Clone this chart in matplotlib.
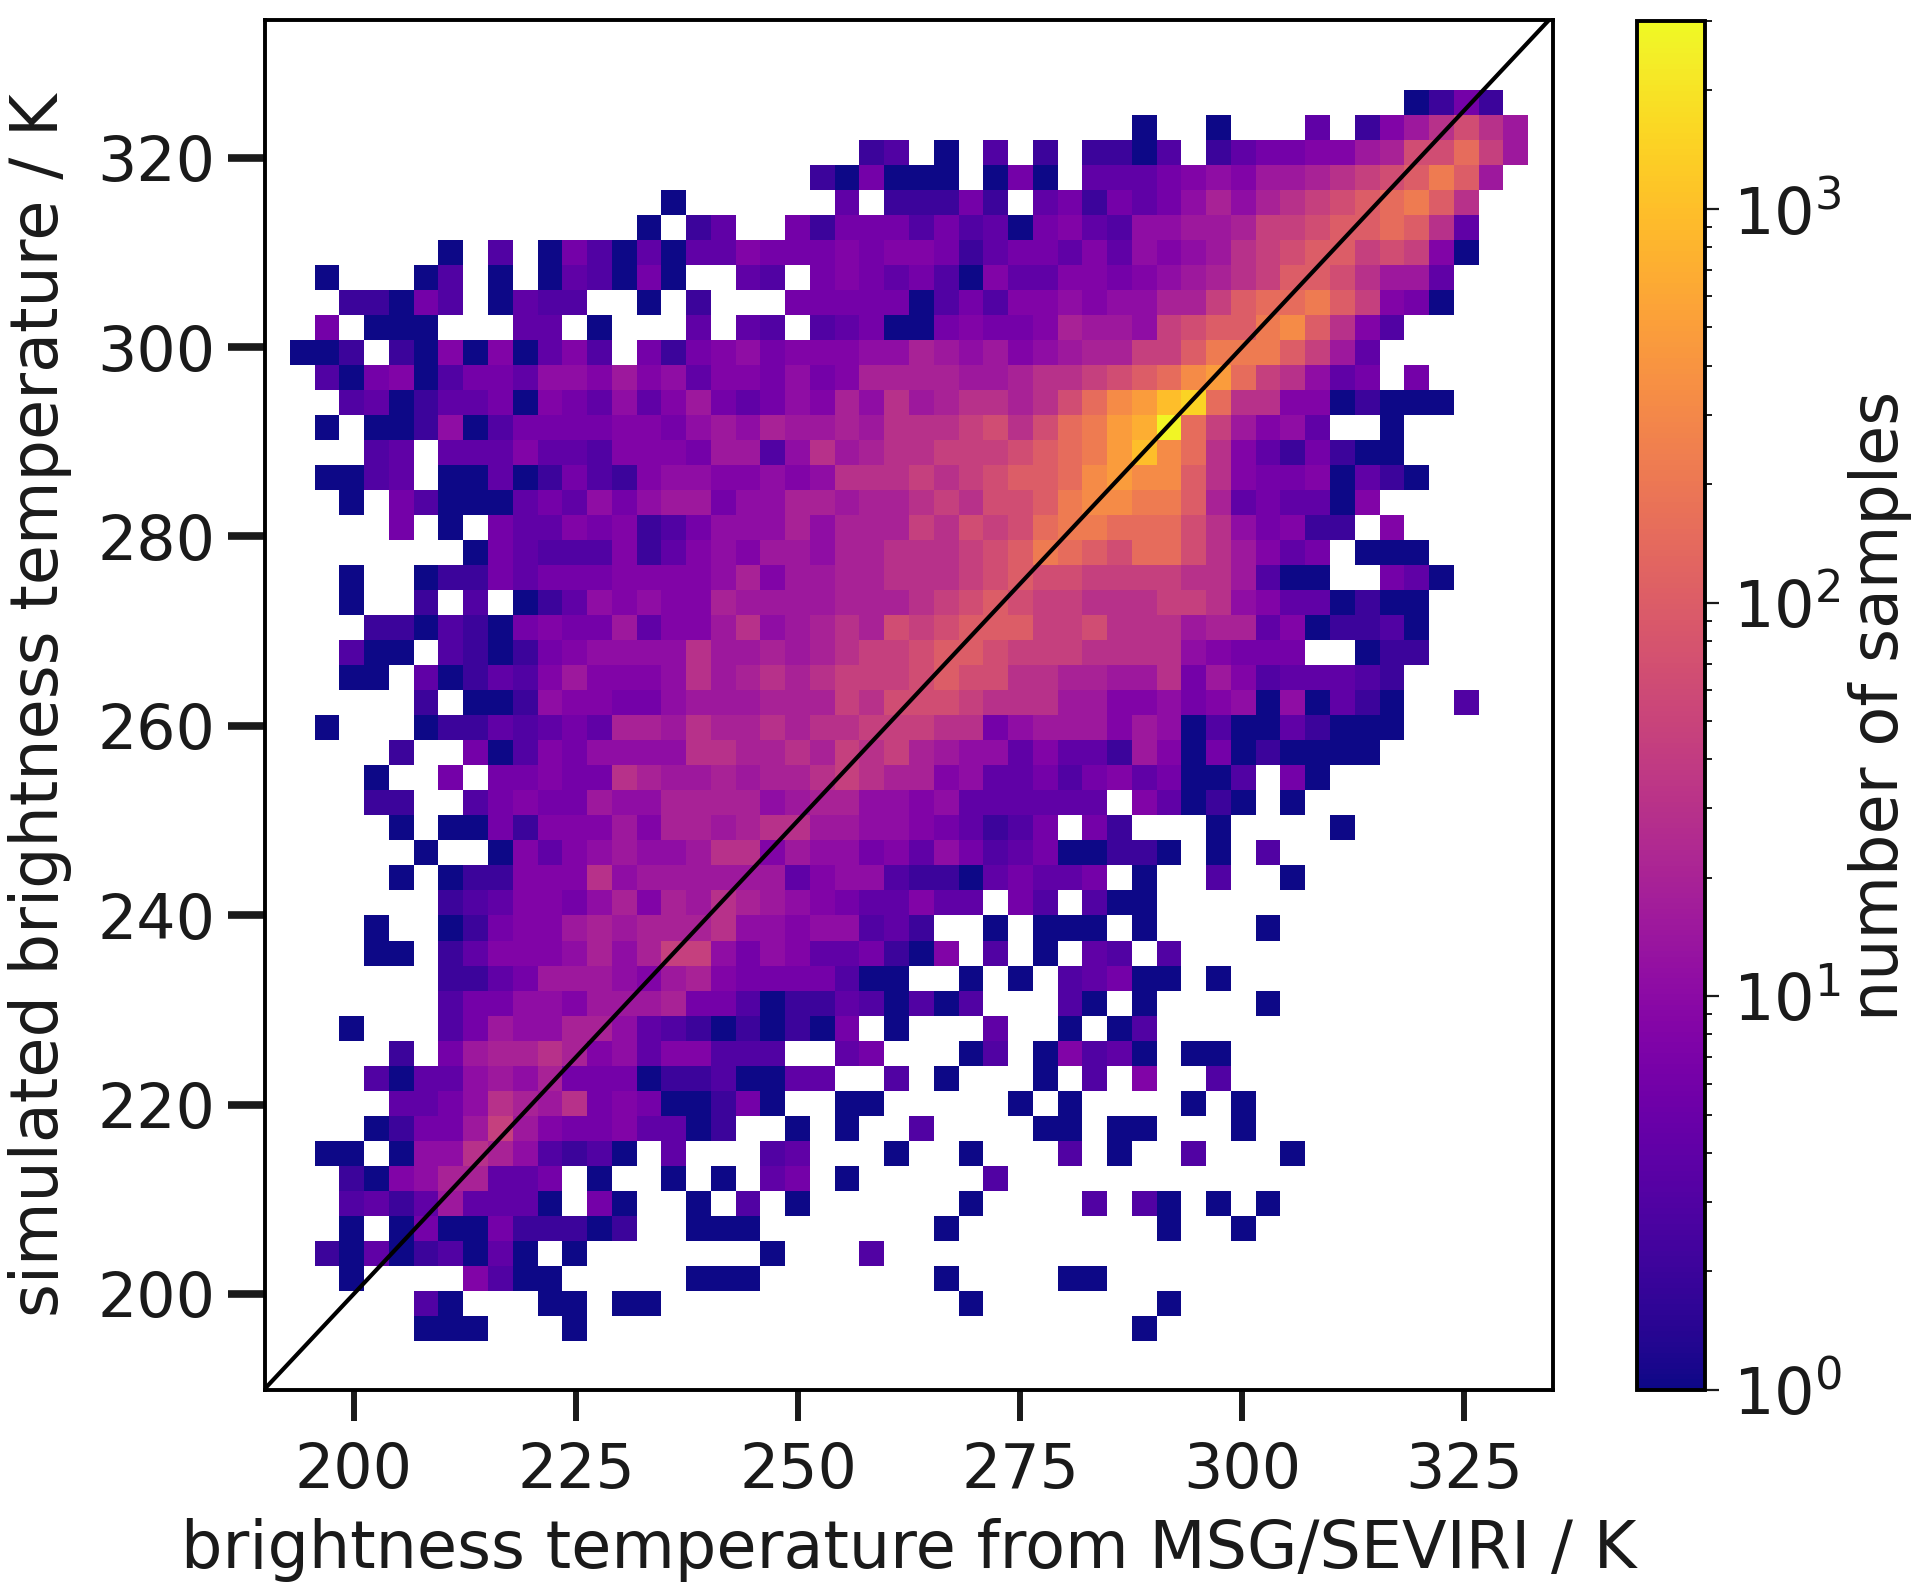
import numpy as np
import matplotlib
matplotlib.use("Agg")
import matplotlib.pyplot as plt
from matplotlib.colors import LogNorm

# one character per histogram cell; rows run top to bottom
LEVELS = {'.': 0, 'a': 1, 'b': 2, 'c': 3, 'd': 4, 'e': 6, 'f': 8, 'g': 11, 'h': 15, 'i': 20,
          'j': 30, 'k': 45, 'l': 65, 'm': 100, 'n': 150, 'o': 220, 'p': 320, 'q': 480,
          'r': 700, 's': 1000, 't': 1500, 'u': 2800}
ROWS = [
 ".......... .......... .......... .......... .....abeb.",
 ".......... .......... .......... ....a..a.. .d.bfhjljh",
 ".......... .......... ...bc.a.c. b.bbac.bde effhillnkh",
 ".......... .......... .baeaaa.ae a.dddefgfh hijklmomh.",
 ".......... .....a.... ..d.bbbeb. debedegigi jklmnomj..",
 ".......... ....a.bd.. ebeeececda efdcgghhik klmmnmjd..",
 "......a.c. aecadaddfe eefeffebde edfdgfghjk lmmklkfa..",
 ".a...ac.a. adcaea..dc .efedecafd dffefghijk mmljhhd...",
 "..bbaec.ad cc..a.b... eeeeeacecf fgfggiikmn nomkfea...",
 ".e.aaa...d d.a...d.dc .cdeaaefee fihhgklmmo pmjfc.....",
 "aab.bafafa dfc.ebefge fffggihghf ghiikkmooo mkhd......",
 ".caefaceed ggfhfgdffe gefiiiihhi jjklmnpqnk jgde.e....",
 "..cdabddea fedgdfhede gfigjhijji jlnpqstnjj ffabaaa...",
 ".a.aabgace eeeffeghgi hhihjjjklj lnoqrunkhf gd..a.....",
 "...cd.dddf ddcfffehhc gjhijjkkkl mnoqspnjfd bebaa.....",
 ".aacd.aada becbfggffg fgjjjkjklm mnpqppmjfe efadba....",
 "..a.ecaaad edgeghhegg iihiijkjll moppoomide ddaf......",
 "....e.a.ed dfefbceggg igiiikjlkl noonnnljge fbb.f.....",
 ".......aed cccfbdfgfh hgiijjjklm onmlnnljhf de.aaa....",
 "..a..abbed eeeffffgif hhiijjjklm llkkkkjjhc aa..eda...",
 "..a..b.c.a bdgfgffihh hhiiijklml kkjjjkkjgf ddabaa....",
 "...bbacbae feehdffhjg hijilklmmm kkljjjhiid fabbca....",
 "..caa.cbab efggggjhhi hijkklmmlk kkjjjjgfee e..abb....",
 "..aa.dabdc fhfffgjhij ijkkklmllj jiihhjehfc dddcb.....",
 ".....b.aab gffeeghhhi iikjlllkjj jhhffgefga gadba..c..",
 ".a...abbdc dediihjiij ijjkkkjjeg hhhfhgacaa dbaaa.....",
 "....b..eac feggggjjii jikjkihggd fddbhfaeab aaaa......",
 "...a..e.ee feejihhihi ijkjiifgdd ecefdeaac. ea........",
 "...bb..cef eehggiiiig hiiggfgddd ddd.fdaba. a.........",
 "....a.aaeb fffhfiihij jhhggfedbc e.eb...a.. ..a.......",
 ".....a..af dfghgghjjf hggefdgecd eaabba.a.c ..........",
 "....a.abbf ffjghhhhhh dfggcbbade dde.a..c.. a.........",
 "......bcdf fegifihjih gfeddfdd.e c.caa..... ..........",
 "...a..abef fhihiiijgg fggcdb..a. aaa.a....a ..........",
 "...aa.bdff fgigikkgeg fddebaf.c. a.dc.c.... ..........",
 "......bbde hhhgfhifee eecaa..a.a .cdeaa.a.. ..........",
 "......ceeg gfhhhieeca bbdcacac.. .ca.a....a ..........",
 "..a...cehg giigdcbaba bae.a...d. .a.ac..... ..........",
 "....b.ehii jifgdffccc ..de...ac. afcda.aa.. ..........",
 "...caddghg ieeeabbcaa dd..c.a... a.c.f..c.. ..........",
 "....ddegji hjefeaabea ..aa.....a .a....a.a. ..........",
 "...abeehkh feefddab.. a.a..c.... aa.aa...a. ..........",
 ".aa.aggjig cbca.d...c d...a..a.. .c.a..c... a.........",
 "..bafgiidd e.a..a.a.d e.a.....c. .......... ..........",
 "..cdbdhddd a.ea..a.c. a......a.. ..c.ca.a.a ..........",
 "..a.aeaaeb bbab..aaa. ......a... .....a..a. ..........",
 ".badabcada .a.......a ...c...... .......... ..........",
 "..a....fca a.....aaa. ......a... .aa....... ..........",
 ".....ca... aa.aa..... .......a.. .....a.... ..........",
 ".....aaa.. .a........ .......... ....a..... ..........",
]
X_RANGE = (192.8, 332.2)
Y_RANGE = (195.03, 327.2)
X_LIM = (190, 335)
Y_LIM = (189.85, 334.55)
DIAGONAL = (189, 336)
VMAX = 3000
XTICKS = [200, 225, 250, 275, 300, 325]
YTICKS = [200, 220, 240, 260, 280, 300, 320]
XLABEL = "brightness temperature from MSG/SEVIRI / K"
YLABEL = "simulated brightness temperature / K"
CLABEL = "number of samples"
INK = "#1a1a1a"

cells = [r.replace(" ", "") for r in ROWS]
for i, r in enumerate(cells):
    if len(r) != 50:
        raise ValueError(f"row {i} has {len(r)} cells")
counts = np.array([[LEVELS[ch] for ch in r] for r in cells], dtype=float)[::-1]
counts = np.ma.masked_equal(counts, 0)
xedges = np.linspace(*X_RANGE, counts.shape[1] + 1)
yedges = np.linspace(*Y_RANGE, counts.shape[0] + 1)

W, H = 1928, 1589
fig = plt.figure(figsize=(W / 100, H / 100), dpi=100)
ax = fig.add_axes([265 / W, 1 - 1390 / H, (1553 - 265) / W, (1390 - 20) / H])
cmap = plt.get_cmap("plasma").copy()
cmap.set_bad("white")
mesh = ax.pcolormesh(xedges, yedges, counts, cmap=cmap, norm=LogNorm(1, VMAX))
ax.plot(DIAGONAL, DIAGONAL, color="black", lw=3)
ax.set_xlim(X_LIM)
ax.set_ylim(Y_LIM)
ax.set_xticks(XTICKS)
ax.set_yticks(YTICKS)
ax.tick_params(axis="x", labelsize=44.5, length=22, width=4.3, pad=15, colors=INK)
ax.tick_params(axis="y", labelsize=44.5, length=27, width=5.5, pad=9, colors=INK)
ax.set_xlabel(XLABEL, fontsize=47, color=INK, labelpad=12)
ax.set_ylabel(YLABEL, fontsize=47, color=INK, labelpad=18)
for s in ax.spines.values():
    s.set_linewidth(2.8)

cax = fig.add_axes([1637 / W, 1 - 1390 / H, (1705 - 1637) / W, (1390 - 21) / H])
cb = fig.colorbar(mesh, cax=cax)
cb.ax.tick_params(which="major", labelsize=46, length=10, width=1.6, pad=10, colors=INK)
cb.ax.tick_params(which="minor", length=5, width=1.4, colors=INK)
cb.set_label(CLABEL, fontsize=47, color=INK, labelpad=4)
cb.outline.set_linewidth(2.8)

fig.savefig("out.png", dpi=100)
